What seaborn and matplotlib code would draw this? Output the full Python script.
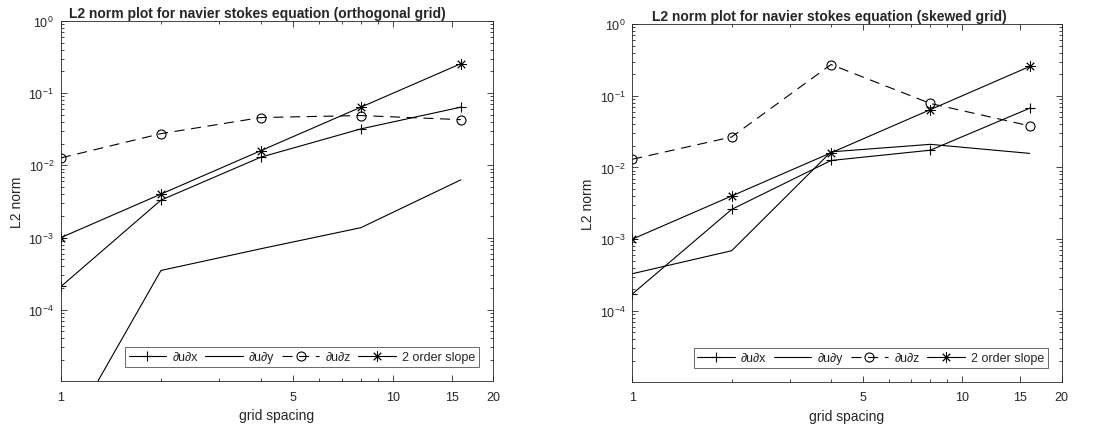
import numpy as np
import pandas as pd
import matplotlib
matplotlib.use("Agg")
import matplotlib.pyplot as plt
import matplotlib.ticker as mticker
import seaborn as sns

grid_spacing = [1, 2, 4, 8, 16]

# orthogonal grid
orth_dudx = [2.1e-4, 3.3e-3, 1.3e-2, 3.2e-2, 6.4e-2]
orth_dudy = [1.3e-6, 3.5e-4, 7.0e-4, 1.37e-3, 6.3e-3]
orth_dudz = [1.27e-2, 2.75e-2, 4.6e-2, 4.9e-2, 4.3e-2]
orth_slope = [1e-3, 4e-3, 1.6e-2, 6.4e-2, 0.256]

# skewed grid
skew_dudx = [1.72e-4, 2.6e-3, 1.25e-2, 1.74e-2, 6.7e-2]
skew_dudy = [3.3e-4, 6.9e-4, 1.65e-2, 2.1e-2, 1.57e-2]
skew_dudz = [1.3e-2, 2.66e-2, 0.272, 7.8e-2, 3.8e-2]
skew_slope = [1e-3, 4e-3, 1.6e-2, 6.4e-2, 0.256]

labels = ["\u2202u\u2202x", "\u2202u\u2202y", "\u2202u\u2202z", "2 order slope"]
titles = ["L2 norm plot for navier stokes equation (orthogonal grid)",
          "L2 norm plot for navier stokes equation (skewed grid)"]
x_ticks = [1, 5, 10, 15, 20]
x_ticklabels = ["1", "5", "10", "15", "20"]

sns.set_theme(style="white")
plt.rcParams['font.family'] = ['Liberation Sans', 'DejaVu Sans']
plt.rcParams['mathtext.fontset'] = 'custom'
plt.rcParams['mathtext.rm'] = 'Liberation Sans'
plt.rcParams['mathtext.it'] = 'Liberation Sans'

fig = plt.figure(figsize=(10.99, 4.27), dpi=100)
W, H = 1099, 427
ax1 = fig.add_axes([61 / W, 1 - 382 / H, 432 / W, 360 / H])
ax2 = fig.add_axes([632.3 / W, 1 - 382.7 / H, 429.4 / W, 357.7 / H])

styles = [
    dict(marker='+', linestyle='-', markersize=7, mew=0.8),
    dict(marker=None, linestyle='-', mew=0.8),
    dict(marker='o', linestyle=(0, (9, 6)), markersize=6.5, mew=0.8),
    dict(marker=(8, 2, 0), linestyle='-', markersize=7.5, mew=0.65),
]

axc = '#262626'
for ax, series, title, tx in [
    (ax1, [orth_dudx, orth_dudy, orth_dudz, orth_slope], titles[0], 0.454),
    (ax2, [skew_dudx, skew_dudy, skew_dudz, skew_slope], titles[1], 0.46),
]:
    for vals, lab, st in zip(series, labels, styles):
        df = pd.DataFrame({"grid": grid_spacing, "l2": vals})
        sns.lineplot(data=df, x="grid", y="l2", ax=ax,
                     marker=st.get('marker'), markersize=st.get('markersize', 6),
                     markeredgecolor='black', markeredgewidth=st['mew'],
                     markerfacecolor='none', color='black', linewidth=0.8,
                     label=lab)
        ln = ax.get_lines()[-1]
        ln.set_linestyle(st['linestyle'])
    ax.set_xscale('log')
    ax.set_yscale('log')
    ax.set_xlim(1, 20)
    ax.set_ylim(1.03e-5, 1)
    ax.set_xticks(x_ticks)
    ax.set_xticklabels(x_ticklabels)
    ax.xaxis.set_minor_locator(mticker.FixedLocator([2, 3, 4, 6, 7, 8, 9]))
    ax.xaxis.set_minor_formatter(mticker.NullFormatter())
    ax.set_yticks([1e-4, 1e-3, 1e-2, 1e-1, 1e0])
    ax.yaxis.set_minor_locator(mticker.LogLocator(base=10, subs=np.arange(2, 10), numticks=20))
    ax.yaxis.set_minor_formatter(mticker.NullFormatter())
    ax.tick_params(which='both', direction='in', top=True, right=True,
                   bottom=True, left=True,
                   color=axc, labelcolor=axc, labelsize=9, width=0.6)
    ax.tick_params(which='major', length=4, pad=5)
    ax.tick_params(axis='x', which='major', pad=7)
    ax.tick_params(which='minor', length=2)
    for sp in ax.spines.values():
        sp.set_color(axc)
        sp.set_linewidth(0.6)
    ax.set_xlabel("grid spacing", fontsize=10, color=axc, labelpad=4)
    ax.set_ylabel("L2 norm", fontsize=10, color=axc, labelpad=3)
    ax.set_title(title, fontsize=10, fontweight='bold', pad=3, x=tx)
    handles, labs = ax.get_legend_handles_labels()
    for h, st in zip(handles, styles):
        h.set_linestyle(st['linestyle'])
    leg = ax.legend(handles, labs, ncol=4, loc='lower right',
                    bbox_to_anchor=(0.968, 0.039), fontsize=9,
                    frameon=True, fancybox=False, edgecolor=axc,
                    handlelength=3.0, columnspacing=0.6, handletextpad=0.5,
                    borderpad=0.3, borderaxespad=0.0)
    leg.get_frame().set_linewidth(0.6)

fig.savefig("out.png", dpi=100)
